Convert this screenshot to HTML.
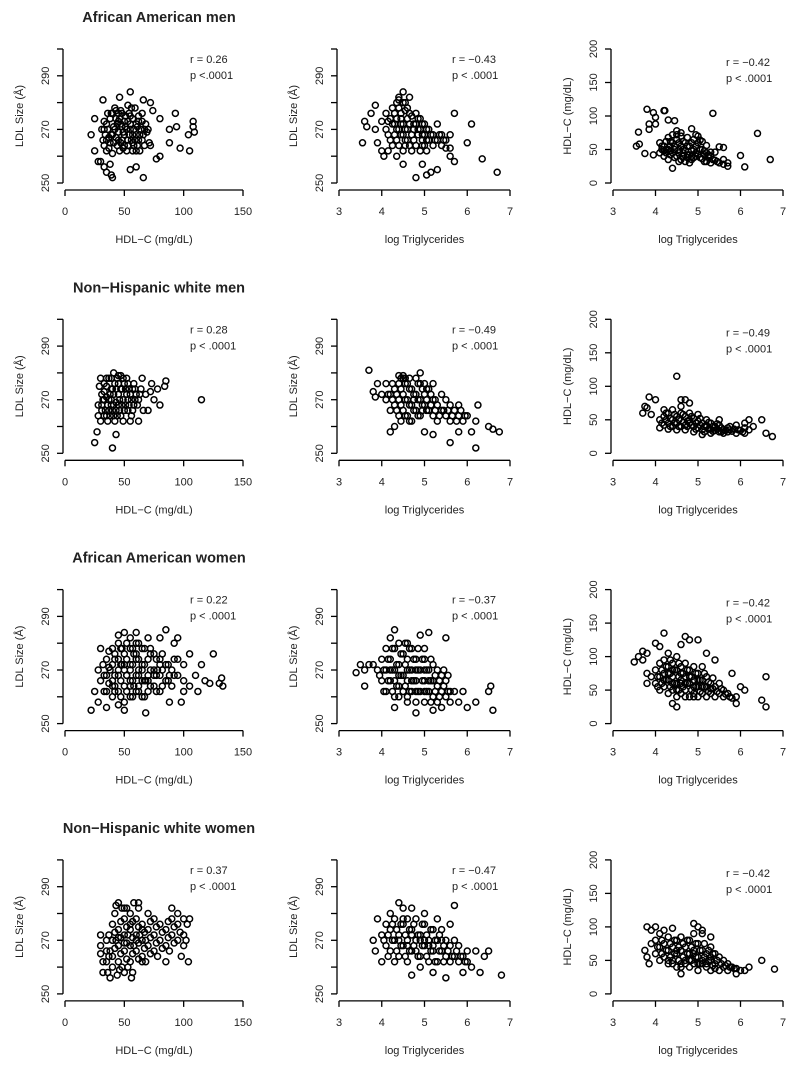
<!DOCTYPE html>
<html><head><meta charset="utf-8"><style>
body{margin:0;background:#fff}
svg text{font-family:"Liberation Sans",sans-serif;fill:#222}
</style></head><body>
<svg id="c" width="800" height="1062" viewBox="0 0 800 1062" xmlns="http://www.w3.org/2000/svg"></svg>
<script>
const groups=["African American men","Non\u2212Hispanic white men","African American women","Non\u2212Hispanic white women"];
const rValues=[["0.26","\u22120.43","\u22120.42"],["0.28","\u22120.49","\u22120.49"],["0.22","\u22120.37","\u22120.42"],["0.37","\u22120.47","\u22120.42"]];
const pTexts=[["p <.0001","p < .0001","p < .0001"],["p < .0001","p < .0001","p < .0001"],["p < .0001","p < .0001","p < .0001"],["p < .0001","p < .0001","p < .0001"]];
const ldlTicks=[250,260,270,280,290,300];
const ldlLabels=[250,270,290];
const hdlTicks=[0,50,100,150,200];
const hdlXTicks=[0,50,100,150];
const tgTicks=[3,4,5,6,7];
const aaMenHdlLdl="35,262 38,265 40,268 42,270 44,272 46,274 48,276 50,273 52,270 54,268 56,266 58,270 60,272 62,275 64,270 66,268 68,272 70,270 36,270 38,274 40,276 42,278 44,264 46,262 48,266 50,268 52,262 54,276 56,278 58,264 60,262 62,266 34,268 36,276 32,266 31,270 33,273 40,261 45,269 50,264 55,272 60,268 65,276 48,271 43,267 57,274 63,262 67,264 53,279 22,268 25,274 25,262 28,258 30,258 32,281 33,256 35,254 38,257 40,252 39,253 46,282 55,284 55,255 60,256 66,252 66,281 72,280 74,277 77,259 80,260 80,274 88,270 88,265 93,276 94,271 97,263 104,268 105,262 108,273 108,271 109,269 71,265 72,264";
const aaMenHdlLdlCore="33,264 37,267 41,271 45,273 49,269 53,266 57,268 61,271 65,273 69,269 35,272 39,276 43,274 47,277 51,275 55,270 59,266 63,268 67,270 37,263 41,265 45,266 49,263 53,264 57,262 61,264 65,266 39,268 47,265 51,271 55,275 59,278 43,277 35,266 33,270 47,272 53,273 45,276 57,265 62,273";
const aaMenTgLdl="4.1,270 4.2,274 4.3,276 4.4,278 4.5,280 4.6,278 4.7,275 4.8,272 4.9,270 5.0,268 5.1,266 5.2,264 4.2,266 4.3,268 4.4,264 4.5,262 4.6,266 4.7,268 4.8,264 4.9,262 5.0,264 5.1,270 4.3,272 4.4,270 4.5,272 4.6,270 4.7,262 4.8,276 4.9,274 5.0,272 4.5,268 4.6,274 4.4,282 4.5,284 4.4,281 4.1,276 4.0,273 5.2,268 5.3,266 5.4,264 5.5,266 5.6,263 5.4,268 5.6,268 4.35,260 4.15,262 4.65,282 3.55,265 3.6,273 3.65,271 3.75,276 3.85,279 3.85,270 3.9,265 4.0,262 4.05,260 4.5,257 5.3,272 5.7,276 6.1,272 6.0,265 6.35,259 6.7,254 5.7,258 5.6,260 5.15,254 5.05,253 5.3,255 4.8,252 4.95,257 5.5,263";
const aaMenTgLdlCore="4.15,268 4.25,272 4.35,274 4.45,276 4.55,277 4.65,276 4.75,272 4.85,270 4.95,268 5.05,266 5.15,268 5.25,266 4.25,264 4.35,266 4.45,268 4.55,266 4.65,264 4.75,266 4.85,268 4.95,266 5.05,270 4.35,270 4.45,272 4.55,270 4.65,272 4.75,270 4.85,274 4.95,272 4.25,278 4.35,280 4.55,280 4.45,274 4.15,273 5.35,268 5.45,266 5.05,262 4.95,264 4.55,264";
const aaMenTgHdl="4.1,60 4.2,55 4.3,50 4.4,45 4.5,40 4.6,35 4.7,32 4.8,30 4.9,38 5.0,42 5.1,36 5.2,32 5.3,30 5.4,34 5.5,30 5.6,28 4.1,45 4.2,40 4.3,35 4.4,60 4.5,65 4.6,70 4.7,60 4.8,55 4.9,50 5.0,60 5.1,50 5.2,45 5.3,40 5.4,46 4.3,68 4.4,72 4.5,78 4.6,55 4.7,48 4.8,42 4.9,65 5.0,70 5.1,62 5.2,56 4.15,50 4.25,62 4.35,42 4.55,50 4.65,45 4.75,68 4.85,35 5.15,42 5.6,35 5.7,30 3.55,55 3.6,76 3.62,58 3.75,44 3.8,110 3.85,88 3.85,80 3.95,105 4.0,98 4.0,88 3.95,42 4.2,108 4.22,108 4.3,94 4.45,93 4.4,22 5.35,104 6.0,41 6.1,24 6.4,74 6.7,35 5.7,25 5.6,53 5.5,54 4.85,81 4.95,72";
const aaMenTgHdlCore="4.15,55 4.25,50 4.35,55 4.45,50 4.55,45 4.65,40 4.75,38 4.85,40 4.95,45 5.05,38 5.15,32 5.25,38 5.35,35 5.45,32 4.25,45 4.35,48 4.45,55 4.55,60 4.65,62 4.75,55 4.85,48 4.95,55 5.05,50 5.15,48 5.25,42 4.45,38 4.55,32 4.65,50 4.75,42 4.85,60 4.95,40 5.05,64 4.35,62 4.5,72 4.6,75 4.2,48 5.3,46";
const nhwMenHdlLdl="32,270 34,266 36,268 38,272 40,274 42,276 44,278 46,270 48,268 50,266 52,272 54,274 56,270 58,268 60,272 36,262 38,264 40,266 42,262 44,264 46,266 48,274 50,276 52,278 54,268 56,264 58,276 35,275 37,278 41,280 47,279 45,272 43,269 39,270 33,273 31,266 55,262 62,270 64,274 66,266 68,272 30,262 30,278 28,264 25,254 27,258 28,268 29,275 40,252 43,257 115,270 85,277 84,275 72,273 75,270 78,274 80,268 70,266 73,276 65,278 62,262";
const nhwMenHdlLdlCore="31,268 33,270 35,271 37,266 39,268 41,272 43,274 45,276 47,274 49,270 51,268 53,270 55,272 57,274 59,270 33,264 35,264 37,270 39,274 41,264 43,266 45,268 47,264 49,278 51,274 53,266 57,266 59,274 61,268 63,272 35,278 45,279 39,278 33,276 31,272 49,262 41,268 53,276";
const nhwMenTgLdl="4.2,272 4.3,274 4.4,276 4.5,278 4.6,276 4.7,274 4.8,272 4.9,270 5.0,268 5.1,266 5.2,270 5.3,268 5.4,266 5.5,264 4.3,268 4.4,270 4.5,272 4.6,270 4.7,268 4.8,266 4.9,264 5.0,272 5.1,274 5.2,264 5.3,262 4.4,264 4.5,266 4.6,264 4.7,262 4.8,278 4.9,276 5.0,276 4.5,279 4.4,279 4.2,266 4.1,270 4.0,272 4.1,276 5.6,268 5.7,266 5.8,264 5.9,262 6.0,264 5.6,262 5.8,268 5.5,270 5.4,272 5.2,276 4.9,280 3.7,281 3.8,273 3.85,271 3.9,276 4.2,258 4.3,260 5.6,254 5.8,258 6.1,258 6.2,252 6.2,262 6.25,268 6.5,260 6.6,259 6.75,258 5.0,258 5.2,257";
const nhwMenTgLdlCore="4.25,270 4.35,272 4.45,274 4.55,276 4.65,274 4.75,272 4.85,270 4.95,268 5.05,266 5.15,268 5.25,266 5.35,264 5.45,266 4.35,266 4.45,268 4.55,270 4.65,268 4.75,266 4.85,264 4.95,266 5.05,270 5.15,272 5.25,270 4.45,262 4.55,264 4.65,262 4.75,270 4.85,276 4.95,274 5.05,274 4.55,278 4.25,276 4.15,272 5.55,266 5.65,264 5.75,262 5.85,266 5.95,264 4.65,278 4.45,278";
const nhwMenTgHdl="4.1,50 4.2,55 4.3,60 4.4,50 4.5,45 4.6,40 4.7,42 4.8,45 4.9,40 5.0,38 5.1,35 5.2,40 5.3,36 5.4,34 5.5,32 5.6,35 5.7,38 5.8,33 5.9,30 6.0,34 4.2,42 4.3,45 4.4,40 4.5,55 4.6,60 4.7,55 4.8,50 4.9,52 5.0,48 5.1,45 5.2,42 5.3,45 5.4,40 5.5,42 5.6,30 5.7,32 4.3,36 4.5,35 4.7,35 4.9,32 5.1,28 5.3,30 4.4,65 4.6,70 4.8,60 5.0,58 5.2,50 5.5,50 6.1,30 6.2,35 5.9,42 4.1,38 4.2,65 3.7,60 3.75,70 3.8,68 3.85,84 3.9,58 4.0,80 4.5,115 4.6,80 4.7,80 4.8,75 6.2,50 6.5,50 6.6,30 6.75,25 6.3,40 6.1,45";
const nhwMenTgHdlCore="4.25,50 4.35,52 4.45,45 4.55,50 4.65,46 4.75,48 4.85,42 4.95,45 5.05,42 5.15,40 5.25,36 5.35,40 5.45,36 5.55,38 5.65,34 5.75,35 5.85,36 5.95,35 6.05,32 4.35,40 4.55,40 4.75,40 4.95,36 5.15,32 5.35,33 5.55,32 4.45,58 4.65,58 4.85,55 5.05,52 5.25,46 5.45,44 4.25,60 4.15,45 5.75,40 6.1,38";
const aaWomenHdlLdl="35,262 35,268 35,274 40,260 40,266 40,272 40,278 45,262 45,268 45,274 45,280 50,258 50,264 50,270 50,276 55,260 55,266 55,272 55,278 60,262 60,268 60,274 60,280 65,260 65,266 65,272 65,278 70,262 70,268 70,274 75,264 75,270 75,276 80,262 80,268 80,274 85,266 85,272 90,264 90,270 95,268 95,274 100,266 100,272 38,270 42,264 48,272 52,268 58,264 62,270 68,266 72,278 78,270 82,276 88,268 30,266 32,272 28,270 42,276 48,278 58,276 62,264 22,255 25,262 28,258 30,278 35,256 45,257 50,255 55,282 60,284 68,254 70,282 80,282 85,285 92,280 95,282 100,262 105,264 110,268 112,262 115,272 118,266 122,265 125,276 130,265 132,267 133,264 105,276 98,258 88,258 50,284 45,283";
const aaWomenHdlLdlCore="37,265 37,271 37,277 42,262 42,268 42,274 47,260 47,266 47,272 47,278 52,262 52,268 52,274 52,280 57,260 57,266 57,272 57,278 62,262 62,268 62,274 62,280 67,260 67,266 67,272 67,278 72,264 72,270 72,276 77,262 77,268 77,274 82,264 82,270 87,266 87,272 92,268 92,274 33,268 33,262 45,270 55,270 65,270 75,268 60,276 50,272 40,264 70,266 80,272 55,264";
const aaWomenTgLdl="3.9,270 4.0,266 4.0,274 4.1,262 4.1,270 4.1,278 4.2,266 4.2,274 4.3,260 4.3,270 4.3,278 4.4,264 4.4,272 4.4,280 4.5,262 4.5,268 4.5,276 4.6,260 4.6,266 4.6,274 4.7,262 4.7,270 4.7,278 4.8,258 4.8,266 4.8,274 4.9,262 4.9,270 5.0,258 5.0,266 5.0,274 5.1,262 5.1,270 5.2,260 5.2,266 5.2,272 5.3,258 5.3,264 5.3,270 5.4,262 5.4,268 5.5,260 5.5,266 5.6,262 3.8,272 3.7,272 3.6,270 4.2,282 4.6,280 5.0,278 5.6,258 5.7,262 5.8,258 3.4,269 3.5,272 3.6,264 4.3,285 4.3,256 4.8,254 5.2,255 5.4,256 5.5,282 5.9,262 6.0,256 6.5,262 6.55,264 6.6,255 6.2,258 5.1,284 4.9,283";
const aaWomenTgLdlCore="3.95,268 4.05,270 4.05,262 4.15,266 4.15,274 4.25,270 4.25,262 4.25,278 4.35,264 4.35,272 4.45,268 4.45,276 4.55,264 4.55,272 4.55,280 4.65,262 4.65,270 4.65,278 4.75,266 4.75,274 4.85,262 4.85,270 4.85,278 4.95,266 4.95,274 5.05,262 5.05,270 5.15,258 5.15,266 5.15,274 5.25,262 5.25,268 5.35,260 5.35,266 5.45,264 5.45,270 5.55,262 5.55,268 4.4,260 4.6,258 4.8,262 5.0,262 4.2,270 4.4,268 4.6,270 4.8,270 5.0,270 4.3,266 4.7,266 5.1,266";
const aaWomenTgHdl="4.0,60 4.0,80 4.1,50 4.1,70 4.1,90 4.2,55 4.2,75 4.2,95 4.3,45 4.3,65 4.3,85 4.3,105 4.4,50 4.4,70 4.4,90 4.5,40 4.5,60 4.5,80 4.5,100 4.6,45 4.6,65 4.6,85 4.7,50 4.7,70 4.7,90 4.8,40 4.8,60 4.8,80 4.9,45 4.9,65 4.9,85 5.0,40 5.0,55 5.0,75 5.1,45 5.1,65 5.1,85 5.2,40 5.2,55 5.2,70 5.3,45 5.3,60 5.4,40 5.4,55 5.5,45 5.5,60 5.6,40 5.6,50 5.7,45 5.8,38 5.9,40 6.0,55 3.9,70 3.8,75 3.8,60 3.7,95 3.5,92 3.6,100 3.7,108 3.8,105 4.0,120 4.2,135 4.1,115 4.6,118 4.7,130 4.8,125 5.0,125 5.2,105 5.4,95 4.5,25 4.4,30 6.5,35 6.6,25 6.6,70 6.1,50 5.8,75 5.9,30";
const aaWomenTgHdlCore="4.05,55 4.05,70 4.15,60 4.15,80 4.25,65 4.25,85 4.35,55 4.35,75 4.35,95 4.45,60 4.45,80 4.55,50 4.55,70 4.55,90 4.65,55 4.65,75 4.75,60 4.75,80 4.85,50 4.85,70 4.95,55 4.95,75 5.05,48 5.05,65 5.15,55 5.15,75 5.25,48 5.25,62 5.35,52 5.35,68 5.45,48 5.55,52 5.65,44 5.75,40 4.4,60 4.6,60 4.8,70 5.0,65 4.3,75 4.2,65 4.4,80 4.6,75 4.7,60 4.9,55 5.1,55 5.3,52 4.5,50 4.7,40 4.9,40";
const nhwWomenHdlLdl="40,264 40,270 40,276 45,262 45,268 45,274 50,266 50,272 50,278 55,262 55,268 55,274 55,280 60,266 60,272 60,278 65,264 65,270 65,276 70,268 70,274 70,280 75,266 75,272 75,278 80,270 80,276 85,268 85,274 90,272 90,278 95,270 95,276 100,272 100,278 35,262 35,270 38,266 42,280 48,282 52,282 58,284 62,282 68,262 78,264 88,266 30,265 30,272 32,258 36,258 44,257 48,260 57,258 30,268 32,262 38,256 50,258 56,256 45,284 50,282 62,284 90,282 95,280 100,268 104,262 102,270 105,278 103,276 98,264 85,262 65,262 43,283";
const nhwWomenHdlLdlCore="42,267 42,273 47,265 47,271 47,277 52,263 52,269 52,275 57,265 57,271 57,277 62,263 62,269 62,275 67,267 67,273 72,265 72,271 72,277 77,269 77,275 82,267 82,273 87,271 87,277 92,269 92,275 97,273 37,264 37,272 43,270 53,272 58,268 63,272 68,270 55,276 45,271 50,269 60,270 65,274 35,266 40,260 46,259 53,260";
const nhwWomenTgLdl="4.0,272 4.1,268 4.1,276 4.2,266 4.2,274 4.3,270 4.3,278 4.4,264 4.4,272 4.5,268 4.5,276 4.6,262 4.6,270 4.6,278 4.7,266 4.7,274 4.8,270 4.8,278 4.9,264 4.9,272 5.0,268 5.0,276 5.1,262 5.1,270 5.2,266 5.2,274 5.3,262 5.3,270 5.4,266 5.4,274 5.5,264 5.5,270 5.6,262 5.6,268 5.7,264 5.7,270 5.8,262 5.8,268 5.9,264 6.0,266 6.0,262 6.1,260 4.2,280 4.5,282 4.7,282 5.0,280 5.3,278 5.6,276 3.8,270 3.85,266 3.9,278 4.0,262 4.4,284 4.7,257 5.2,258 5.5,256 5.7,283 6.2,266 6.4,264 6.3,258 6.5,266 6.8,257 5.9,258";
const nhwWomenTgLdlCore="4.05,270 4.15,272 4.15,264 4.25,270 4.25,276 4.35,266 4.35,274 4.45,268 4.45,276 4.55,264 4.55,272 4.65,266 4.65,274 4.75,268 4.75,276 4.85,264 4.85,272 4.95,268 4.95,276 5.05,264 5.05,272 5.15,266 5.15,274 5.25,262 5.25,270 5.35,266 5.35,272 5.45,262 5.45,268 5.55,266 5.65,264 5.75,266 5.85,264 5.95,262 4.4,270 4.6,268 4.8,266 5.0,270 5.2,268 5.4,270 4.5,278 4.7,272 4.9,270 5.1,268 4.3,262 4.9,260";
const nhwWomenTgHdl="4.0,60 4.0,80 4.1,50 4.1,70 4.1,90 4.2,55 4.2,75 4.3,45 4.3,65 4.3,85 4.4,50 4.4,70 4.5,40 4.5,60 4.5,80 4.6,45 4.6,65 4.6,85 4.7,50 4.7,70 4.8,40 4.8,60 4.8,80 4.9,45 4.9,65 4.9,90 5.0,35 5.0,55 5.0,75 5.1,45 5.1,65 5.1,90 5.2,40 5.2,60 5.3,35 5.3,50 5.3,70 5.4,45 5.4,60 5.5,35 5.5,55 5.6,40 5.6,50 5.7,35 5.7,45 5.8,40 5.9,38 6.0,35 3.9,75 3.8,100 3.9,95 3.75,65 3.8,55 3.85,45 4.0,100 4.2,95 4.4,98 4.9,105 5.0,100 5.1,95 5.3,85 6.1,35 6.2,40 6.5,50 6.8,37 5.9,30 4.6,30";
const nhwWomenTgHdlCore="4.05,70 4.15,60 4.15,80 4.25,65 4.35,55 4.35,75 4.45,60 4.45,80 4.55,50 4.55,70 4.65,55 4.65,75 4.75,60 4.75,80 4.85,50 4.85,70 4.95,55 4.95,75 5.05,45 5.05,65 5.15,55 5.15,75 5.25,50 5.25,65 5.35,42 5.35,60 5.45,50 5.55,45 5.65,42 5.75,40 5.85,38 4.4,45 4.6,40 4.8,50 5.0,45 5.2,45 5.4,38 4.3,50 4.5,65 4.7,45 4.9,60 5.1,50 5.3,55";
const panelData=[
 [aaMenHdlLdl+" "+aaMenHdlLdlCore, aaMenTgLdl+" "+aaMenTgLdlCore, aaMenTgHdl+" "+aaMenTgHdlCore],
 [nhwMenHdlLdl+" "+nhwMenHdlLdlCore, nhwMenTgLdl+" "+nhwMenTgLdlCore, nhwMenTgHdl+" "+nhwMenTgHdlCore],
 [aaWomenHdlLdl+" "+aaWomenHdlLdlCore, aaWomenTgLdl+" "+aaWomenTgLdlCore, aaWomenTgHdl+" "+aaWomenTgHdlCore],
 [nhwWomenHdlLdl+" "+nhwWomenHdlLdlCore, nhwWomenTgLdl+" "+nhwWomenTgLdlCore, nhwWomenTgHdl+" "+nhwWomenTgHdlCore]];

const svg=document.getElementById('c');
const NS='http://www.w3.org/2000/svg';
function mk(tag,attrs,parent){const e=document.createElementNS(NS,tag);for(const k in attrs)e.setAttribute(k,attrs[k]);parent.appendChild(e);return e;}
const cols=[
 {px0:65,px1:243,xmin:0,xmax:150,xt:hdlXTicks,xl:hdlXTicks,xtitle:"HDL\u2212C (mg/dL)",ymin:250,ymax:300,yt:ldlTicks,yl:ldlLabels,ytitle:"LDL Size (\u00c5)",rx:190},
 {px0:339,px1:510,xmin:3,xmax:7,xt:tgTicks,xl:tgTicks,xtitle:"log Triglycerides",ymin:250,ymax:300,yt:ldlTicks,yl:ldlLabels,ytitle:"LDL Size (\u00c5)",rx:452},
 {px0:613,px1:783,xmin:3,xmax:7,xt:tgTicks,xl:tgTicks,xtitle:"log Triglycerides",ymin:0,ymax:200,yt:hdlTicks,yl:hdlTicks,ytitle:"HDL\u2212C (mg/dL)",rx:726}
];
const ROW=270.3;
for(let r=0;r<4;r++){
 const off=r*ROW;
 const t=mk('text',{x:159,y:22+off,'text-anchor':'middle','font-size':'14.5','font-weight':'bold'},svg);
 t.textContent=groups[r];
 
 
 for(let c=0;c<3;c++){
  const C=cols[c];
  const py0=183+off,py1=49+off;
  const sx=v=>C.px0+(v-C.xmin)/(C.xmax-C.xmin)*(C.px1-C.px0);
  const sy=v=>py0-(v-C.ymin)/(C.ymax-C.ymin)*(py0-py1);
  const g=mk('g',{},svg);
  
  
  const ax=C.px0-2, ay=190+off;
  mk('line',{x1:ax,x2:ax,y1:sy(C.yt[C.yt.length-1]),y2:sy(C.yt[0]),stroke:'#000','stroke-width':1.3},g);
  C.yt.forEach(v=>{mk('line',{x1:ax-6,x2:ax,y1:sy(v),y2:sy(v),stroke:'#000','stroke-width':1.3},g);});
  C.yl.forEach(v=>{const tx=mk('text',{x:0,y:0,'font-size':'11','text-anchor':'middle',transform:`translate(${ax-14},${sy(v)}) rotate(-90)`},g);tx.textContent=v;
   
   });
  mk('line',{x1:sx(C.xt[0]),x2:sx(C.xt[C.xt.length-1]),y1:ay,y2:ay,stroke:'#000','stroke-width':1.3},g);
  C.xt.forEach(v=>{mk('line',{x1:sx(v),x2:sx(v),y1:ay,y2:ay+6,stroke:'#000','stroke-width':1.3},g);});
  C.xl.forEach(v=>{const tx=mk('text',{x:sx(v),y:ay+25,'font-size':'11','text-anchor':'middle'},g);tx.textContent=v;
   
   });
  const xt=mk('text',{x:(C.px0+C.px1)/2,y:ay+53,'font-size':'11','text-anchor':'middle'},g);xt.textContent=C.xtitle;
  
  
  const yt=mk('text',{x:0,y:0,'font-size':'11','text-anchor':'middle',transform:`translate(${ax-40},${(py0+py1)/2}) rotate(-90)`},g);yt.textContent=C.ytitle;
  
  
  const dy=c===2?3:0;
  const rt=mk('text',{x:C.rx,y:63+off+dy,'font-size':'11'},g);rt.textContent='r = '+rValues[r][c];
  
  
  const pt=mk('text',{x:C.rx,y:79+off+dy,'font-size':'11'},g);pt.textContent=pTexts[r][c];
  
  
  panelData[r][c].split(' ').forEach(s=>{const [x,y]=s.split(',').map(Number);
   const p=mk('circle',{cx:sx(x),cy:sy(y),r:3.0,fill:'none',stroke:'#000','stroke-width':1.5},g);
   
   
  });
 }
}
</script>
</body></html>
